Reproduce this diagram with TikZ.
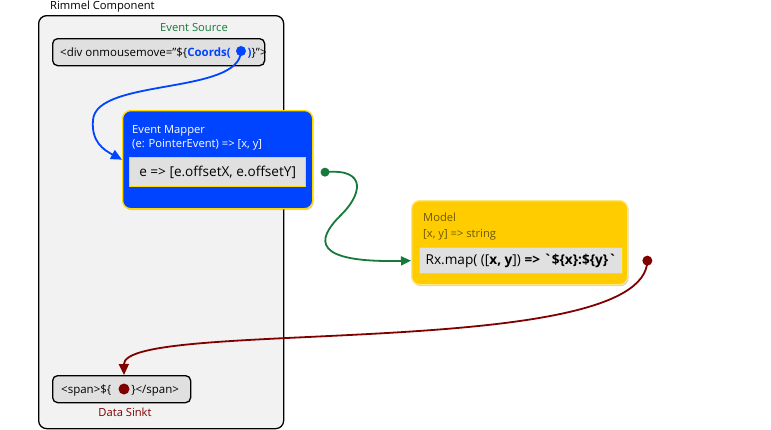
\documentclass[tikz,border=0pt]{standalone}
\usepackage{fontspec}
\setmainfont{Open Sans}
\usetikzlibrary{arrows.meta, positioning, shadows}

\definecolor{mapblue}{HTML}{0044FF}
\definecolor{mapborder}{HTML}{FFD800}
\definecolor{modelfill}{HTML}{FFCC00}
\definecolor{modelborder}{HTML}{FFE680}
\definecolor{modeltext}{HTML}{6B5A00}
\definecolor{srcgreen}{HTML}{167A3A}
\definecolor{sinkred}{HTML}{800000}
\definecolor{compgrey}{HTML}{F2F2F2}
\definecolor{boxgrey}{HTML}{E0E0E0}

\begin{document}
\begin{tikzpicture}[
    x=1pt, y=-1pt,
    component/.style={rectangle, rounded corners=8pt, draw=black, line width=1.3pt, fill=compgrey, minimum width=245, minimum height=413, anchor=north west},
    tagbox/.style={rectangle, rounded corners=5pt, draw=black, line width=1.3pt, fill=boxgrey, minimum height=27, anchor=north west},
    tagtext/.style={anchor=base west, inner sep=0pt, font=\fontsize{11.5}{13}\selectfont},
    stage/.style={rectangle, rounded corners=8pt, line width=1.3pt, anchor=north west, drop shadow={opacity=0.35, shadow xshift=1pt, shadow yshift=-1.5pt}},
    fnbox/.style={rectangle, draw=mapborder, line width=1.3pt, fill=boxgrey, anchor=north west, inner xsep=6pt, font=\fontsize{13.6}{15}\selectfont},
    caption/.style={anchor=base west, inner sep=0pt, font=\fontsize{11.2}{12}\selectfont},
    dot/.style={circle, inner sep=0pt, minimum size=10pt},
    flow/.style={line width=1.8pt, -{Triangle[length=11pt, width=10pt]}}
]

\useasboundingbox (0,0) rectangle (771,429);

% Component frame
\node[component] (rimmel) at (38,15) {};
\node[caption] (rimmellabel) at (50,9) {Rimmel Component};

% Event source
\node[caption, anchor=base, text=srcgreen] (sourcelabel) at (194,31) {Event Source};
\node[tagbox, minimum width=212] (source) at (52,38) {};
\node[tagtext] (sourcetext) at (60,56)
  {<div onmousemove="\$\{\textcolor{mapblue}{\textbf{Coords(}\hspace{17pt}\textbf{)}}\}">};
\node[dot, fill=mapblue] (coordsdot) at (241,51) {};

% Event mapper
\node[stage, draw=mapborder, fill=mapblue, minimum width=190, minimum height=98] (mapper) at (122,110) {};
\node[caption, text=white] (mappertitle) at (132,133) {Event Mapper};
\node[caption, text=white] (mappersig) at (132,147) {(e: PointerEvent) => [x, y]};
\node[fnbox, minimum width=176, minimum height=29] (mapfn) at (129,157) {e => [e.offsetX, e.offsetY]};
\node[dot, fill=srcgreen, minimum size=9pt, right=14pt of mapfn] (mapperdot) {};

% Model
\node[stage, draw=modelborder, fill=modelfill, minimum width=216, minimum height=84] (model) at (411,200) {};
\node[caption, text=modeltext] (modeltitle) at (423,221) {Model};
\node[caption, text=modeltext] (modelsig) at (423,237) {[x, y] => string};
\node[fnbox, minimum width=202, minimum height=26] (rxmap) at (419,247)
  {Rx.map( ([\textbf{x, y}]) \textbf{=> \textasciigrave\$\{x\}:\$\{y\}\textasciigrave}};
\node[dot, fill=sinkred, right=19pt of rxmap] (modeldot) {};

% Data sink
\node[tagbox, minimum width=138] (sink) at (52,375) {};
\node[tagtext] (sinktext) at (61,393) {<span>\$\{\hspace{20pt}\}</span>};
\node[dot, fill=sinkred, minimum size=11pt] (sinkdot) at (124,389) {};
\node[caption, anchor=base, text=sinkred] (sinklabel) at (125,416) {Data Sinkt};

% Arrows
\draw[flow, draw=mapblue] (coordsdot.center) .. controls (240,95) and (96,78) .. (93,120)
  .. controls (91,142) and (104,150) .. (mapper.west);
\draw[flow, draw=srcgreen, -{Triangle[length=10pt, width=9pt]}] (mapperdot.center)
  .. controls (368,168) and (362,195) .. (340,216)
  .. controls (316,240) and (312,263) .. ([xshift=-8pt]rxmap.west);
\draw[flow, draw=sinkred] (modeldot.center) .. controls (645,362) and (123,318) .. (sink.north -| sinkdot);

\end{tikzpicture}
\end{document}
